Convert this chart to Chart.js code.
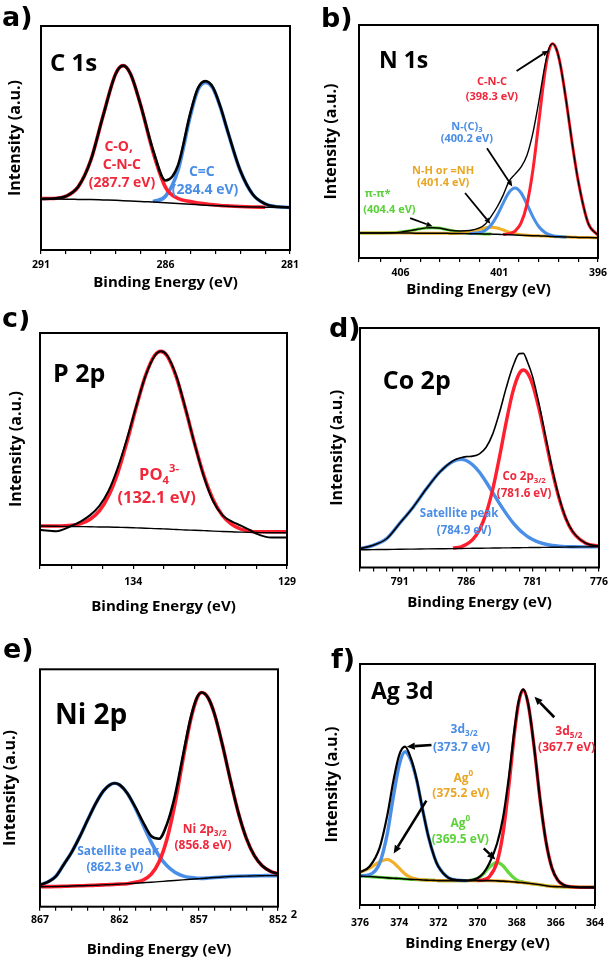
<!DOCTYPE html>
<html><head><meta charset="utf-8">
<script src="https://cdn.jsdelivr.net/npm/chart.js@4.4.1/dist/chart.umd.min.js"></script>
<style>
body{margin:0;background:#fff;}
#wrap{position:relative;width:612px;height:958px;background:#fff;overflow:hidden;}
canvas{position:absolute;}
</style></head>
<body><div id="wrap">
<canvas id="pa" width="306" height="310" style="left:0;top:0"></canvas>
<canvas id="pb" width="306" height="310" style="left:306px;top:0"></canvas>
<canvas id="pc" width="306" height="320" style="left:0;top:310px"></canvas>
<canvas id="pd" width="306" height="320" style="left:306px;top:310px"></canvas>
<canvas id="pe" width="306" height="328" style="left:0;top:630px"></canvas>
<canvas id="pf" width="306" height="328" style="left:306px;top:630px"></canvas>
</div>
<script>
// ---------------- DATA (intensity in % of plot height) ----------------
// a) C 1s
const energyA = [291,290.5,290,289.5,289,288.5,288,287.7,287.4,287,286.5,286,285.5,285,284.7,284.4,284.1,283.8,283.5,283,282.5,282,281.5,281];
const envelopeA = [22.8,23.0,24.0,28.3,40.1,60.2,78.7,82.3,78.5,64.8,44.6,31.0,37.8,61.2,72.2,75.4,72.7,64.1,53.0,35.6,24.9,20.6,19.3,19.0];
const backgroundA = [22.8,22.75,22.7,22.6,22.5,22.35,22.2,22.0,21.85,21.7,21.4,21.1,20.75,20.4,20.2,20.0,19.85,19.7,19.5,19.3,19.2,19.1,19.0,19.0];
const coA = [23.0,23.0,24.0,28.3,40.1,60.2,78.7,82.3,78.5,64.7,43.7,28.0,23.0,21.6,21.0,20.6,20.2,19.9,19.7,19.4,19.2,19.1,null,null];
const ccA = [null,null,null,null,null,null,null,null,null,null,21.6,24.0,35.5,60.0,71.4,74.8,72.3,63.9,52.8,35.5,24.9,20.6,19.3,19.0];

// b) N 1s
const energyB = [408.1,407.5,407,406.5,406,405.5,405,404.7,404.4,404.1,403.8,403.5,403,402.5,402,401.7,401.4,401.1,400.8,400.5,400.2,399.9,399.6,399.3,399,398.7,398.5,398.3,398.1,397.9,397.6,397.3,397,396.5,396];
const envelopeB = [10.7,10.7,10.72,10.81,11.11,11.74,12.52,12.91,13.0,12.86,12.47,11.92,11.6,11.8,12.92,14.64,18.0,22.0,27.0,33.0,36.0,39.0,44.0,53.5,67.0,82.0,89.5,92.0,89.6,82.7,66.9,48.8,33.0,15.0,9.8];
const backgroundB = [10.7,10.7,10.7,10.7,10.7,10.7,10.65,10.65,10.6,10.6,10.6,10.55,10.5,10.45,10.4,10.3,10.25,10.2,10.1,10.0,9.9,9.8,9.7,9.6,9.5,9.4,9.3,9.2,9.15,9.1,9.0,8.9,8.85,8.75,8.7];
const cncB = [null,null,null,null,null,null,null,null,null,null,null,null,null,null,null,null,null,null,10.1,10.44,11.54,14.97,22.9,37.5,58.1,79.0,88.5,91.9,89.45,82.7,66.9,48.8,33.0,15.0,9.8];
const nc3B = [null,null,null,null,null,null,null,null,null,null,null,null,null,10.5,10.95,11.95,14.27,18.36,23.57,28.2,30.0,28.0,23.17,17.76,13.52,11.05,10.11,9.57,9.3,9.12,9.0,null,null,null,null];
const nhB = [10.7,10.7,10.7,10.7,10.7,10.7,10.65,10.65,10.6,10.6,10.6,10.55,10.63,11.13,12.33,12.99,13.25,12.89,12.03,11.11,10.41,9.99,9.75,9.6,9.5,9.4,9.3,9.2,9.15,9.1,9.0,8.9,8.85,8.75,8.7];
const piB = [10.7,10.7,10.72,10.81,11.11,11.74,12.52,12.91,13.0,12.86,12.47,11.92,11.12,10.65,10.44,10.3,10.25,null,null,null,null,null,null,null,null,null,null,null,null,null,null,null,null,null,null];

// c) P 2p
const energyC = [137,136.5,136,135.7,135.4,135.1,134.8,134.5,134.2,133.9,133.6,133.3,133.1,132.9,132.6,132.3,132,131.7,131.4,131.1,130.8,130.5,130.2,130,129.5,129];
const envelopeC = [15.1,14.6,16.9,18.8,21.5,25.5,32.0,42.0,54.5,68.5,81.5,90.2,92.1,90.4,81.5,67.5,52.0,38.0,27.5,21.5,18.8,17.0,15.0,13.5,11.8,11.9];
const backgroundC = [16.8,16.7,16.6,16.55,16.5,16.4,16.35,16.25,16.15,16.0,15.85,15.7,15.6,15.5,15.3,15.1,15.0,14.8,14.6,14.45,14.3,14.15,14.05,14.0,13.9,13.9];
const po4C = [16.8,16.8,17.1,17.85,19.7,23.3,29.85,39.85,53.25,68.1,81.65,90.4,92.1,90.2,81.1,67.2,52.1,38.4,28.1,21.35,17.5,15.45,14.55,14.3,14.3,14.3];

// d) Co 2p
const energyD = [794,793,792,791,790,789,788,787,786.4,786,785.5,785,784.5,784,783.5,783,782.5,782,781.7,781.4,781,780.5,780,779.5,779,778.5,778,777,776];
const envelopeD = [7.9,9.27,12.0,18.5,25.2,32.9,39.8,44.5,45.85,46.3,46.5,47.45,50.2,55.8,64.6,74.8,83.7,89.3,89.4,86.0,79.7,67.9,54.1,40.6,29.2,20.6,15.2,10.1,8.9];
const backgroundD = [7.4,7.47,7.54,7.62,7.69,7.76,7.83,7.9,7.95,7.98,8.01,8.05,8.09,8.12,8.16,8.19,8.23,8.27,8.29,8.31,8.34,8.37,8.41,8.45,8.48,8.52,8.56,8.63,8.7];
const satD = [7.9,9.27,12.04,18.52,25.19,32.86,39.83,44.3,45.15,44.68,42.81,39.75,35.69,31.22,26.76,22.59,18.83,15.77,14.29,13.01,11.69,10.47,9.71,9.18,8.88,8.72,8.66,8.63,8.7];
const co32D = [null,null,null,null,null,null,null,8.1,8.65,9.58,11.71,15.75,22.59,32.72,45.96,60.39,73.13,81.07,82.49,81.31,76.34,65.77,52.81,39.85,28.78,20.42,15.06,10.13,8.9];

// e) Ni 2p
const energyE = [867,866.5,866,865.5,865,864.5,864,863.5,863,862.6,862.3,862,861.5,861,860.5,860,859.5,859,858.5,858,857.5,857.1,856.8,856.4,856,855.5,855,854.5,854,853.5,853,852.5,852];
const envelopeE = [9.2,10.45,12.8,17.8,23.0,29.4,36.5,43.35,48.8,51.3,52.0,51.4,47.8,42.0,35.55,29.8,28.6,34.8,46.65,63.3,79.55,88.2,90.25,87.9,81.1,68.1,53.3,39.6,28.9,21.6,17.25,15.0,13.8];
const backgroundE = [8.4,8.45,8.5,8.6,8.7,8.8,8.9,9.05,9.2,9.3,9.4,9.5,9.7,9.9,10.1,10.3,10.55,10.8,11.05,11.3,11.55,11.75,11.9,12.1,12.3,12.5,12.7,12.8,12.9,13.0,13.05,13.1,13.1];
const satE = [9.2,10.45,12.8,17.8,23.0,29.4,36.5,43.35,48.8,51.3,52.0,51.4,47.8,41.7,34.4,27.3,21.45,17.2,14.55,13.0,12.25,12.0,11.95,12.1,12.3,12.5,12.7,12.8,12.9,13.0,13.05,13.1,13.1];
const ni32E = [8.4,8.45,8.5,8.6,8.7,8.8,8.9,9.05,9.2,9.3,9.4,9.5,9.7,10.25,11.25,13.6,18.85,28.4,43.15,61.6,78.85,87.95,90.2,87.9,81.1,68.1,53.3,39.6,28.9,21.6,17.25,15.0,13.8];

// f) Ag 3d
const energyF = [376,375.5,375,374.6,374.3,374,373.7,373.4,373.1,372.8,372.5,372.2,372,371.5,371,370.5,370,369.7,369.4,369,368.7,368.4,368.1,367.9,367.67,367.4,367.1,366.8,366.5,366.2,365.9,365.6,365.3,365,364.5,364];
const envelopeF = [13.6,16.1,23.7,37.5,51.3,62.2,65.7,60.8,51.85,39.5,28.2,19.8,16.0,11.4,10.3,10.17,11.1,13.2,17.2,25.5,36.1,52.95,73.55,84.5,89.45,82.85,65.0,43.5,26.2,15.4,10.3,8.3,7.65,7.4,7.3,7.3];
const backgroundF = [12.0,11.8,11.5,11.25,11.1,11.0,10.8,10.65,10.55,10.4,10.3,10.2,10.1,10.1,10.1,10.1,10.1,10.1,10.1,10.0,9.9,9.75,9.55,9.4,9.3,9.0,8.7,8.4,8.0,7.7,7.6,7.5,7.45,7.4,7.3,7.3];
const d32F = [12.05,12.6,17.3,29.85,44.8,58.0,63.6,60.0,51.65,39.5,28.2,19.8,16.0,11.4,10.3,10.1,null,null,null,null,null,null,null,null,null,null,null,null,null,null,null,null,null,null,null,null];
const ag0hiF = [13.5,15.3,17.9,18.9,17.6,15.3,12.9,11.45,10.75,10.4,10.3,10.2,10.1,10.1,10.1,10.1,10.1,10.1,10.1,10.0,9.9,9.75,9.55,9.4,9.3,9.0,8.7,8.4,8.0,7.7,7.6,7.5,7.45,7.4,7.3,7.3];
const ag0loF = [12.0,11.8,11.5,11.25,11.1,11.0,10.8,10.65,10.55,10.4,10.3,10.2,10.1,10.1,10.1,10.17,11.05,12.85,15.6,17.7,16.3,13.35,10.95,10.0,9.55,9.05,8.7,8.4,8.0,7.7,7.6,7.5,7.45,7.4,7.3,7.3];
const d52F = [null,null,null,null,null,null,null,null,null,null,null,null,null,null,null,null,10.16,10.45,11.7,17.8,29.7,49.35,72.15,83.9,89.2,82.8,65.0,43.5,26.2,15.4,10.3,8.3,7.65,7.4,7.3,7.3];

// ---------------- STYLE ----------------
const RED = '#ff1f2e', BLUE = '#4a8fe7', YELLOW = '#f0b02a', GREEN = '#63d83c';
const RED_T = '#f0283c', BLUE_T = '#4a8de6', YELLOW_T = '#e9a624', GREEN_T = '#5bd13a';
const FONT = '"Open Sans", "DejaVu Sans", sans-serif';

function series(xs, ys, color, width) {
  return {
    data: xs.map((x, i) => ({x: x, y: ys[i]})),
    borderColor: color, borderWidth: width, pointRadius: 0, fill: false,
    cubicInterpolationMode: 'monotone', spanGaps: false
  };
}

function drawArrow(ctx, x0, y0, x1, y1, w, head) {
  const ang = Math.atan2(y1 - y0, x1 - x0);
  const hx = x1 - head * Math.cos(ang), hy = y1 - head * Math.sin(ang);
  ctx.beginPath(); ctx.moveTo(x0, y0); ctx.lineTo(hx, hy);
  ctx.lineWidth = w; ctx.strokeStyle = '#000'; ctx.lineCap = 'butt'; ctx.stroke();
  ctx.beginPath(); ctx.moveTo(x1, y1);
  ctx.lineTo(hx + head * 0.45 * Math.sin(ang), hy - head * 0.45 * Math.cos(ang));
  ctx.lineTo(hx - head * 0.45 * Math.sin(ang), hy + head * 0.45 * Math.cos(ang));
  ctx.closePath(); ctx.fillStyle = '#000'; ctx.fill();
}

function drawRich(ctx, parts, cx, cy, color, size) {
  const segs = parts.map(p => {
    const small = p[1] !== '';
    const fs = small ? size * 0.68 : size;
    ctx.font = 'bold ' + fs + 'px ' + FONT;
    return {t: p[0], mode: p[1], fs: fs, w: ctx.measureText(p[0]).width};
  });
  const total = segs.reduce((s, g) => s + g.w, 0);
  let x = cx - total / 2;
  ctx.fillStyle = color; ctx.textAlign = 'left'; ctx.textBaseline = 'middle';
  segs.forEach(g => {
    ctx.font = 'bold ' + g.fs + 'px ' + FONT;
    let dy = 0;
    if (g.mode === 'sub') dy = size * 0.32;
    if (g.mode === 'sup') dy = -size * 0.38;
    ctx.fillText(g.t, x, cy + dy);
    x += g.w;
  });
}

const panelDecor = {
  id: 'panelDecor',
  afterDraw(chart, args, o) {
    const ctx = chart.ctx, ca = chart.chartArea, sx = chart.scales.x, sy = chart.scales.y;
    ctx.save();
    ctx.lineWidth = 2; ctx.strokeStyle = '#000';
    ctx.strokeRect(ca.left, ca.top, ca.right - ca.left, ca.bottom - ca.top);
    (o.arrows || []).forEach(a => drawArrow(ctx,
      sx.getPixelForValue(a[0]), sy.getPixelForValue(a[1]),
      sx.getPixelForValue(a[2]), sy.getPixelForValue(a[3]), o.arrowWidth || 2, o.arrowHead || 7));
    (o.labels || []).forEach(l => drawRich(ctx, l.parts,
      sx.getPixelForValue(l.x), sy.getPixelForValue(l.y), l.color, o.labelSize));
    // panel letter and element title
    ctx.fillStyle = '#000'; ctx.textAlign = 'left'; ctx.textBaseline = 'alphabetic';
    ctx.font = 'bold 27px "DejaVu Sans", sans-serif';
    ctx.fillText(o.letter.text, o.letter.x, o.letter.y);
    ctx.font = 'bold ' + o.title.size + 'px ' + FONT;
    ctx.fillText(o.title.text, o.title.x, o.title.y);
    (o.extras || []).forEach(e => {
      ctx.font = 'bold ' + e.size + 'px ' + FONT;
      ctx.textAlign = 'center'; ctx.textBaseline = 'middle';
      ctx.fillText(e.text, e.x, e.y);
    });
    ctx.restore();
  }
};

function makePanel(id, p) {
  return new Chart(document.getElementById(id), {
    type: 'line',
    data: {datasets: p.datasets},
    options: {
      responsive: false, animation: false, devicePixelRatio: 1,
      layout: {padding: {top: p.box.top, right: p.box.right, left: 0, bottom: 0}},
      plugins: {legend: {display: false}, tooltip: {enabled: false}, panelDecor: p.decor},
      scales: {
        x: {
          type: 'linear', reverse: true, min: p.xmin, max: p.xmax,
          ticks: {stepSize: 1, autoSkip: false, maxRotation: 0, color: '#000', padding: p.tickPad,
            font: {family: FONT, weight: 'bold', size: 10.5},
            callback: v => {
              const r = Math.round(v);
              if (Math.abs(r - v) > 1e-6) return '';
              return ((r - p.labelFrom) % p.labelEvery === 0) ? String(r) : '';
            }},
          grid: {display: true, drawOnChartArea: false, drawTicks: true, tickLength: 4, color: '#000', lineWidth: 1.2},
          border: {display: false},
          title: {display: true, text: 'Binding Energy (eV)', color: '#000',
            font: {family: FONT, weight: 'bold', size: 15, lineHeight: 1}, padding: {top: 0, bottom: p.xTitlePad}},
          afterFit: s => { s.height = p.box.xh; }
        },
        y: {
          min: 0, max: 100,
          ticks: {display: false}, grid: {display: false}, border: {display: false},
          title: {display: true, text: 'Intensity (a.u.)', color: '#000',
            font: {family: FONT, weight: 'bold', size: 16, lineHeight: 1}, padding: {top: p.yTitlePad, bottom: 0}},
          afterFit: s => { s.width = p.box.yw; }
        }
      }
    },
    plugins: [panelDecor]
  });
}

// a) C 1s
makePanel('pa', {
  xmin: 281, xmax: 291, labelFrom: 281, labelEvery: 5, tickPad: 5, xTitlePad: 19.5, yTitlePad: 7,
  box: {top: 26, right: 16, xh: 60, yw: 41},
  datasets: [
    series(energyA, envelopeA, '#000', 2.6),
    series(energyA, backgroundA, '#000', 1.5),
    series(energyA, coA, RED, 3.6),
    series(energyA, ccA, BLUE, 3.6)
  ],
  decor: {
    labelSize: 14,
    letter: {text: 'a)', x: 2, y: 26}, title: {text: 'C 1s', x: 50, y: 71, size: 24},
    labels: [
      {parts: [['C-O,', '']], x: 287.88, y: 46.1, color: RED_T},
      {parts: [['C-N-C', '']], x: 287.75, y: 37.9, color: RED_T},
      {parts: [['(287.7 eV)', '']], x: 287.75, y: 29.8, color: RED_T},
      {parts: [['C=C', '']], x: 284.54, y: 35.0, color: BLUE_T},
      {parts: [['(284.4 eV)', '']], x: 284.41, y: 26.8, color: BLUE_T}
    ]
  }
});

// b) N 1s
makePanel('pb', {
  xmin: 396, xmax: 408.1, labelFrom: 396, labelEvery: 5, tickPad: 5, xTitlePad: 12.5, yTitlePad: 17,
  box: {top: 25, right: 14, xh: 52, yw: 53},
  datasets: [
    series(energyB, envelopeB, '#000', 1.4),
    series(energyB, backgroundB, '#000', 1.5),
    series(energyB, cncB, RED, 3),
    series(energyB, nc3B, BLUE, 3),
    series(energyB, nhB, YELLOW, 3),
    series(energyB, piB, GREEN, 3)
  ],
  decor: {
    labelSize: 11, arrowWidth: 1.8, arrowHead: 6,
    letter: {text: 'b)', x: 15, y: 26.7}, title: {text: 'N 1s', x: 73, y: 67.7, size: 23},
    arrows: [[400.12, 80.3, 398.52, 89.0], [401.62, 47.1, 400.34, 30.7], [402.73, 27.9, 401.45, 14.7], [405.51, 17.1, 404.38, 13.6]],
    labels: [
      {parts: [['C-N-C', '']], x: 401.37, y: 75.7, color: RED_T},
      {parts: [['(398.3 eV)', '']], x: 401.37, y: 69.3, color: RED_T},
      {parts: [['N-(C)', ''], ['3', 'sub']], x: 402.64, y: 56.4, color: BLUE_T},
      {parts: [['(400.2 eV)', '']], x: 402.64, y: 51.0, color: BLUE_T},
      {parts: [['N-H or =NH', '']], x: 403.84, y: 37.6, color: YELLOW_T},
      {parts: [['(401.4 eV)', '']], x: 403.84, y: 32.4, color: YELLOW_T},
      {parts: [['\u03c0-\u03c0*', '']], x: 407.16, y: 27.4, color: GREEN_T},
      {parts: [['(404.4 eV)', '']], x: 406.56, y: 20.7, color: GREEN_T}
    ]
  }
});

// c) P 2p
makePanel('pc', {
  xmin: 129, xmax: 137.03, labelFrom: 129, labelEvery: 5, tickPad: 7, xTitlePad: 15.8, yTitlePad: 8.7,
  box: {top: 23, right: 19, xh: 65, yw: 40},
  datasets: [
    series(energyC, envelopeC, '#000', 2),
    series(energyC, backgroundC, '#000', 1.4),
    series(energyC, po4C, RED, 3.6)
  ],
  decor: {
    labelSize: 16.5,
    letter: {text: 'c)', x: 2, y: 17}, title: {text: 'P 2p', x: 53, y: 71.7, size: 25},
    labels: [
      {parts: [['PO', ''], ['4', 'sub'], ['3-', 'sup']], x: 133.16, y: 38.7, color: RED_T},
      {parts: [['(132.1 eV)', '']], x: 133.24, y: 28.7, color: RED_T}
    ]
  }
});

// d) Co 2p
makePanel('pd', {
  xmin: 776, xmax: 794, labelFrom: 776, labelEvery: 5, tickPad: 4, xTitlePad: 19.8, yTitlePad: 23.7,
  box: {top: 18, right: 13, xh: 62.5, yw: 54},
  datasets: [
    series(energyD, envelopeD, '#000', 1.6),
    series(energyD, backgroundD, '#000', 1.4),
    series(energyD, co32D, RED, 3.4),
    series(energyD, satD, BLUE, 3.4)
  ],
  decor: {
    labelSize: 11.5,
    letter: {text: 'd)', x: 23, y: 26.7}, title: {text: 'Co 2p', x: 76.7, y: 79.3, size: 25},
    labels: [
      {parts: [['Co 2p', ''], ['3/2', 'sub']], x: 781.64, y: 37.8, color: RED_T},
      {parts: [['(781.6 eV)', '']], x: 781.64, y: 31.0, color: RED_T},
      {parts: [['Satellite peak', '']], x: 786.54, y: 22.4, color: BLUE_T},
      {parts: [['(784.9 eV)', '']], x: 786.16, y: 15.4, color: BLUE_T}
    ]
  }
});

// e) Ni 2p
makePanel('pe', {
  xmin: 852, xmax: 867, labelFrom: 852, labelEvery: 5, tickPad: 3, xTitlePad: 0.5, yTitlePad: 2,
  box: {top: 39.3, right: 28, xh: 51.3, yw: 40},
  datasets: [
    series(energyE, envelopeE, '#000', 2.6),
    series(energyE, backgroundE, '#000', 1.4),
    series(energyE, ni32E, RED, 3.6),
    series(energyE, satE, BLUE, 3.6)
  ],
  decor: {
    labelSize: 12,
    letter: {text: 'e)', x: 3, y: 28}, title: {text: 'Ni 2p', x: 55, y: 94.3, size: 28},
    extras: [{text: '2', x: 294, y: 285, size: 11}],
    labels: [
      {parts: [['Ni 2p', ''], ['3/2', 'sub']], x: 856.62, y: 32.3, color: RED_T},
      {parts: [['(856.8 eV)', '']], x: 856.73, y: 25.6, color: RED_T},
      {parts: [['Satellite peak', '']], x: 862.07, y: 23.2, color: BLUE_T},
      {parts: [['(862.3 eV)', '']], x: 862.28, y: 16.6, color: BLUE_T}
    ]
  }
});

// f) Ag 3d
makePanel('pf', {
  xmin: 364, xmax: 376, labelFrom: 364, labelEvery: 2, tickPad: 8, xTitlePad: 7.2, yTitlePad: 18.7,
  box: {top: 34, right: 13, xh: 53, yw: 54},
  datasets: [
    series(energyF, envelopeF, '#000', 2.2),
    series(energyF, backgroundF, '#000', 1.6),
    series(energyF, d52F, RED, 3.4),
    series(energyF, d32F, BLUE, 3.4),
    series(energyF, ag0hiF, YELLOW, 3.2),
    series(energyF, ag0loF, GREEN, 3.2)
  ],
  decor: {
    labelSize: 12, arrowWidth: 2.6, arrowHead: 8,
    letter: {text: 'f)', x: 25, y: 38}, title: {text: 'Ag 3d', x: 65, y: 69.3, size: 23},
    arrows: [[366.08, 77.9, 367.09, 86.4], [372.35, 66.4, 373.61, 65.7], [372.61, 43.3, 374.28, 21.4], [369.68, 23.5, 369.09, 18.9]],
    labels: [
      {parts: [['3d', ''], ['3/2', 'sub']], x: 370.68, y: 72.6, color: BLUE_T},
      {parts: [['(373.7 eV)', '']], x: 370.82, y: 65.4, color: BLUE_T},
      {parts: [['Ag', ''], ['0', 'sup']], x: 370.72, y: 52.6, color: YELLOW_T},
      {parts: [['(375.2 eV)', '']], x: 370.85, y: 46.3, color: YELLOW_T},
      {parts: [['Ag', ''], ['0', 'sup']], x: 370.88, y: 33.9, color: GREEN_T},
      {parts: [['(369.5 eV)', '']], x: 370.88, y: 27.0, color: GREEN_T},
      {parts: [['3d', ''], ['5/2', 'sub']], x: 365.33, y: 71.9, color: RED_T},
      {parts: [['(367.7 eV)', '']], x: 365.45, y: 65.4, color: RED_T}
    ]
  }
});
</script>
</body></html>
